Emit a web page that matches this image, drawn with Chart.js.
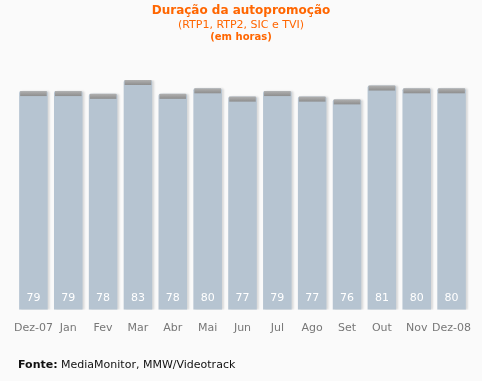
<!DOCTYPE html>
<html>
<head>
<meta charset="utf-8">
<script src="https://cdn.jsdelivr.net/npm/chart.js@4"></script>
<style>
    body { margin: 0; background: #fafafa; }
    #wrap { position: relative; width: 482px; height: 381px; font-family: "DejaVu Sans", Verdana, sans-serif; }
    #chart { position: absolute; left: 0; top: 0; }
    .t { position: absolute; left: 0; width: 482px; text-align: center; color: #ff6600; }
    #t1 { top: 3px; font-size: 12px; font-weight: bold; }
    #t2 { top: 18px; font-size: 11px; }
    #t3 { top: 31px; font-size: 10px; font-weight: bold; }
    #src { position: absolute; left: 18px; top: 358px; font-size: 11px; color: #111; }
</style>
</head>
<body>
<div id="wrap">
    <canvas id="chart" width="482" height="381"></canvas>
    <div class="t" id="t1">Duração da autopromoção</div>
    <div class="t" id="t2">(RTP1, RTP2, SIC e TVI)</div>
    <div class="t" id="t3">(em horas)</div>
    <div id="src"><b>Fonte:</b> MediaMonitor, MMW/Videotrack</div>
</div>
<script>
const months = ['Dez-07', 'Jan', 'Fev', 'Mar', 'Abr', 'Mai', 'Jun', 'Jul', 'Ago', 'Set', 'Out', 'Nov', 'Dez-08'];
const hours = [79, 79, 78, 83, 78, 80, 77, 79, 77, 76, 81, 80, 80];

// shadow around bars + grey cap on top + value labels at the bottom
const barDecor = {
    id: 'barDecor',
    beforeDatasetsDraw(chart) {
        const ctx = chart.ctx;
        ctx.save();
        ctx.shadowColor = 'rgba(0,0,0,0.13)';
        ctx.shadowBlur = 2;
        ctx.shadowOffsetX = 2;
        ctx.shadowOffsetY = 0;
    },
    afterDatasetsDraw(chart) {
        const ctx = chart.ctx;
        ctx.restore();
        const meta = chart.getDatasetMeta(0);
        meta.data.forEach((bar, i) => {
            const left = bar.x - bar.width / 2;
            const g = ctx.createLinearGradient(0, bar.y, 0, bar.y + 5);
            g.addColorStop(0, '#b0b0b0');
            g.addColorStop(1, '#8e8e8e');
            ctx.fillStyle = g;
            ctx.fillRect(left + 1, bar.y, bar.width - 2, 5);
            ctx.fillStyle = '#ffffff';
            ctx.font = '11px "DejaVu Sans", Verdana, sans-serif';
            ctx.textAlign = 'center';
            ctx.textBaseline = 'middle';
            ctx.fillText(hours[i], bar.x, bar.base - 12);
        });
    }
};

new Chart(document.getElementById('chart'), {
    type: 'bar',
    data: {
        labels: months,
        datasets: [{
            data: hours,
            backgroundColor: '#b6c4d1',
            borderWidth: 0,
            borderRadius: 2,
            borderSkipped: 'bottom',
            categoryPercentage: 0.82,
            barPercentage: 1
        }]
    },
    options: {
        responsive: false,
        animation: false,
        layout: { padding: { top: 80, left: 16, right: 13, bottom: 42 } },
        plugins: { legend: { display: false }, tooltip: { enabled: false } },
        scales: {
            y: { display: false, min: 0, max: 83 },
            x: {
                grid: { display: false },
                border: { display: false },
                ticks: {
                    color: '#777',
                    padding: 4,
                    font: { family: '"DejaVu Sans", Verdana, sans-serif', size: 11 },
                    maxRotation: 0,
                    autoSkip: false
                }
            }
        }
    },
    plugins: [barDecor]
});
</script>
</body>
</html>
